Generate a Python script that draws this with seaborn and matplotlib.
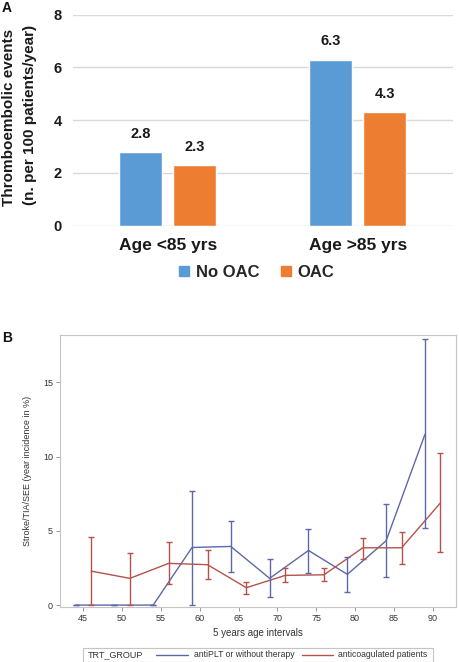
import numpy as np
import pandas as pd
import matplotlib
matplotlib.use("Agg")
import matplotlib.pyplot as plt
from matplotlib.lines import Line2D
from matplotlib.patches import Rectangle
import seaborn as sns

# ---------------- data ----------------
# Panel A
age_groups = ["Age <85 yrs", "Age >85 yrs"]
treat_groups = ["No OAC", "OAC"]
no_oac_rates = [2.8, 6.3]
oac_rates = [2.3, 4.3]

# Panel B
antiplt_age = [44, 49, 54, 59, 64, 69, 74, 79, 84, 89]
antiplt_rate = [0.0, 0.0, 0.0, 3.88, 3.95, 1.80, 3.68, 2.07, 4.33, 11.5]
antiplt_lo = [0.0, 0.0, 0.0, 0.0, 2.25, 0.56, 2.18, 0.90, 1.86, 5.17]
antiplt_hi = [0.0, 0.0, 0.0, 7.70, 5.68, 3.10, 5.12, 3.23, 6.78, 17.94]

anticoag_age = [46, 51, 56, 61, 66, 71, 76, 81, 86, 91]
anticoag_rate = [2.29, 1.80, 2.81, 2.72, 1.17, 2.00, 2.04, 3.86, 3.86, 6.89]
anticoag_lo = [0.0, 0.0, 1.41, 1.73, 0.72, 1.57, 1.62, 3.12, 2.76, 3.59]
anticoag_hi = [4.56, 3.48, 4.22, 3.73, 1.55, 2.47, 2.47, 4.54, 4.94, 10.26]

b_groups = ["antiPLT or without therapy", "anticoagulated patients"]
b_legend_title = "TRT_GROUP"

# ---------------- style ----------------
sns.set_theme(style="white")
plt.rcParams["font.family"] = ["Liberation Sans", "DejaVu Sans"]

W, H = 459, 662
fig = plt.figure(figsize=(W / 100, H / 100), dpi=100)

def fx(px):
    return px / W

def fy(py):
    return 1 - py / H

# ---------------- Panel A ----------------
blue_a = "#5B9BD5"
orange_a = "#ED7D31"
dfA = pd.DataFrame({
    "age": age_groups * 2,
    "group": [treat_groups[0]] * 2 + [treat_groups[1]] * 2,
    "rate": no_oac_rates + oac_rates,
})
axA = fig.add_axes([fx(72.7), fy(225.7), fx(380), 211 / H])
sns.barplot(data=dfA, x="age", y="rate", hue="group", hue_order=treat_groups,
            palette=[blue_a, orange_a], width=0.568, gap=0.211, ax=axA,
            legend=False, saturation=1, errorbar=None)
axA.set_xlim(-0.5, 1.5)
axA.set_ylim(0, 8)
axA.set_yticks([0, 2, 4, 6, 8])
axA.yaxis.grid(True, color="#d9d9d9", lw=1)
axA.set_axisbelow(True)
for s in axA.spines.values():
    s.set_visible(False)
axA.tick_params(axis="y", length=0, pad=8, labelsize=10.5)
axA.tick_params(axis="x", length=0, pad=9, labelsize=12.5)
for lab in axA.get_yticklabels() + axA.get_xticklabels():
    lab.set_fontweight("bold")
    lab.set_color("#1a1a1a")
axA.set_xlabel("")
axA.set_ylabel("")
for cont in axA.containers:
    axA.bar_label(cont, fmt="%.1f", padding=8, fontsize=10.5,
                  fontweight="bold", color="#1a1a1a")

fig.text(fx(9), fy(117), "Thromboembolic events", rotation=90, ha="center",
         va="center", fontsize=11, fontweight="bold", color="#1a1a1a")
fig.text(fx(30), fy(115), "(n. per 100 patients/year)", rotation=90,
         ha="center", va="center", fontsize=11, fontweight="bold",
         color="#1a1a1a")

handlesA = [Line2D([], [], marker="s", ls="none", color=c, markersize=7)
            for c in (blue_a, orange_a)]
fig.legend(handlesA, treat_groups, loc="center",
           bbox_to_anchor=(fx(256), fy(272.5)), ncol=2, frameon=False,
           prop={"weight": "bold", "size": 12}, handletextpad=0.3,
           columnspacing=1.2, handlelength=0.8)

fig.text(fx(2), fy(8), "A", fontsize=10, fontweight="bold", ha="left",
         va="center", color="#111111")

# ---------------- Panel B ----------------
blue_b = "#5D68A8"
red_b = "#B5524C"
txt_b = "#333333"
dfB = pd.DataFrame({
    "age": antiplt_age + anticoag_age,
    "rate": antiplt_rate + anticoag_rate,
    "group": [b_groups[0]] * len(antiplt_age) + [b_groups[1]] * len(anticoag_age),
})
axB = fig.add_axes([fx(60), fy(607), fx(396), 272 / H])
sns.lineplot(data=dfB, x="age", y="rate", hue="group", hue_order=b_groups,
             palette=[blue_b, red_b], estimator=None, lw=1, ax=axB,
             legend=False)
for xs, ys, lo, hi, c in [(antiplt_age, antiplt_rate, antiplt_lo, antiplt_hi, blue_b),
                          (anticoag_age, anticoag_rate, anticoag_lo, anticoag_hi, red_b)]:
    ys = np.array(ys)
    axB.errorbar(xs, ys, yerr=[ys - np.array(lo), np.array(hi) - ys],
                 fmt="none", ecolor=c, elinewidth=1, capsize=2.5,
                 capthick=1)
axB.set_xlim(42, 93)
axB.set_ylim(-0.13, 18.2)
axB.set_xticks(range(45, 91, 5))
axB.set_yticks([0, 5, 10, 15])
for s in axB.spines.values():
    s.set_color("#c4c4c4")
    s.set_linewidth(0.8)
axB.tick_params(axis="both", which="both", direction="out", length=3,
                width=0.7, color="#999999", labelsize=6.5, labelcolor=txt_b,
                pad=2)
axB.tick_params(axis="x", bottom=True)
axB.tick_params(axis="y", left=True)
axB.set_xlabel("5 years age intervals", fontsize=7, color=txt_b, labelpad=4)
axB.set_ylabel("Stroke/TIA/SEE (year incidence in %)", fontsize=6.5,
               color=txt_b, labelpad=8)

# legend box of panel B
fig.patches.append(Rectangle((fx(83.3), fy(661.5)), fx(349.4), 13.5 / H,
                             transform=fig.transFigure, fill=False,
                             edgecolor="#c4c4c4", lw=0.8))
ly = fy(654.5)
fig.text(fx(88), ly, b_legend_title, fontsize=6.5, color=txt_b, ha="left",
         va="center")
fig.add_artist(Line2D([fx(155.7), fx(188.3)], [ly, ly], color=blue_b, lw=1,
                      transform=fig.transFigure))
fig.text(fx(194), ly, b_groups[0], fontsize=6.2, color=txt_b, ha="left",
         va="center")
fig.add_artist(Line2D([fx(301.7), fx(333)], [ly, ly], color=red_b, lw=1,
                      transform=fig.transFigure))
fig.text(fx(338), ly, b_groups[1], fontsize=6.2, color=txt_b, ha="left",
         va="center")

fig.text(fx(2), fy(338), "B", fontsize=10, fontweight="bold", ha="left",
         va="center", color="#111111")

fig.savefig("out.png", dpi=100)
